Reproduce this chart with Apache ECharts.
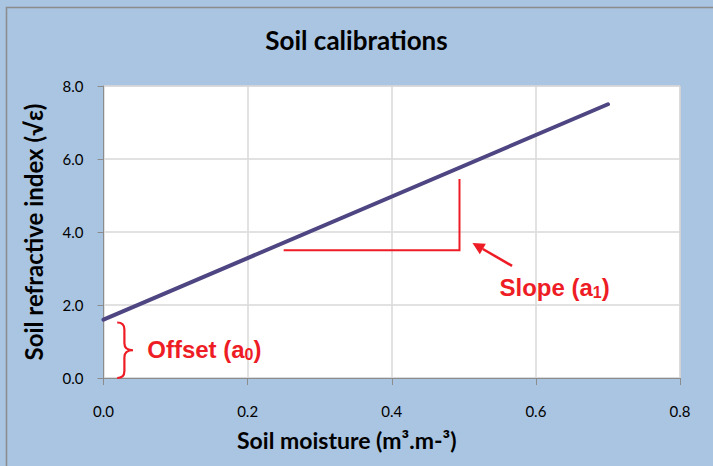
<!DOCTYPE html>
<html>
<head>
<meta charset="utf-8">
<script src="https://cdn.jsdelivr.net/npm/echarts@6/dist/echarts.min.js"></script>
<style>
html,body{margin:0;padding:0;background:#AAC5E1;}
#chart{width:713px;height:466px;}
</style>
</head>
<body>
<div id="chart"></div>
<script>
// Data
const calibX = [0, 0.7];
const calibY = [1.6, 7.5];
const xTicks = [0, 0.2, 0.4, 0.6, 0.8];
const yTicks = [0, 2, 4, 6, 8];
// Annotations (data coordinates)
const slopeLegs = [[0.25, 3.5], [0.494, 3.5], [0.494, 5.45]];
const slopeArrow = [[0.567, 3.07], [0.512, 3.70]];
const slopeLabel = [0.626, 2.47];
const braceX = [0.019, 0.029, 0.041];
const braceY = [0, 1.52];
const offsetLabel = [0.14, 0.77];

const RED = '#EE1C25';
const chart = echarts.init(document.getElementById('chart'), null, {renderer: 'svg'});

function annotations(params, api) {
  const children = [];
  const pts = slopeLegs.map(p => api.coord(p));
  children.push({type: 'polyline', shape: {points: pts}, style: {stroke: RED, lineWidth: 2, fill: null}});
  const a0 = api.coord(slopeArrow[0]), a1 = api.coord(slopeArrow[1]);
  const dx = a1[0] - a0[0], dy = a1[1] - a0[1];
  const len = Math.sqrt(dx * dx + dy * dy);
  const ux = dx / len, uy = dy / len;
  const hl = 12, hw = 6;
  const bx = a1[0] - ux * hl, by = a1[1] - uy * hl;
  children.push({type: 'line', shape: {x1: a0[0], y1: a0[1], x2: bx, y2: by}, style: {stroke: RED, lineWidth: 2.5}});
  children.push({type: 'polygon', shape: {points: [a1, [bx - uy * hw, by + ux * hw], [bx + uy * hw, by - ux * hw]]}, style: {fill: RED}});
  const top = api.coord([braceX[0], braceY[1]]);
  const bot = api.coord([braceX[0], braceY[0]]);
  const xv = api.coord([braceX[1], 0])[0];
  const xt = api.coord([braceX[2], 0])[0];
  const x0 = top[0], yt = top[1], yb = bot[1], ym = (yt + yb) / 2;
  const r = 7;
  const d = `M ${x0} ${yt} Q ${xv} ${yt} ${xv} ${yt + r} L ${xv} ${ym - r} Q ${xv} ${ym} ${xt} ${ym} Q ${xv} ${ym} ${xv} ${ym + r} L ${xv} ${yb - r} Q ${xv} ${yb} ${x0} ${yb}`;
  children.push({type: 'path', shape: {pathData: d}, style: {stroke: RED, lineWidth: 2.2, fill: null}});
  const sl = api.coord(slopeLabel), ol = api.coord(offsetLabel);
  const sub = {s: {fontSize: 16, fill: RED, fontWeight: 'bold', fontFamily: 'Liberation Sans', padding: [9, 0, 0, 0]}};
  children.push({type: 'text', x: sl[0], y: sl[1], style: {text: 'Slope (a{s|1})', rich: sub, fill: RED, fontSize: 24, fontWeight: 'bold', fontFamily: 'Liberation Sans', align: 'center', verticalAlign: 'middle'}});
  children.push({type: 'text', x: ol[0], y: ol[1], style: {text: 'Offset (a{s|0})', rich: sub, fill: RED, fontSize: 24, fontWeight: 'bold', fontFamily: 'Liberation Sans', align: 'center', verticalAlign: 'middle'}});
  return {type: 'group', children};
}

const option = {
  backgroundColor: '#AAC5E1',
  animation: false,
  textStyle: {fontFamily: 'Lato'},
  title: {
    text: 'Soil calibrations', left: 'center', top: 22,
    textStyle: {fontFamily: 'Lato', fontWeight: 'bold', fontSize: 26, color: '#000'}
  },
  graphic: [{
    type: 'rect', left: 4, top: 5, shape: {width: 760, height: 500},
    style: {fill: null, stroke: '#8C8C8C', lineWidth: 1.5}, silent: true
  }],
  grid: {left: 103.5, right: 33, top: 86, bottom: 88, show: true, backgroundColor: '#fff', borderColor: '#C8C8C8', borderWidth: 1},
  xAxis: {
    type: 'value', min: xTicks[0], max: xTicks[xTicks.length - 1], interval: 0.2,
    name: 'Soil moisture (m³.m-³)', nameLocation: 'middle', nameGap: 50,
    nameTextStyle: {fontFamily: 'Lato', fontWeight: 'bold', fontSize: 23, color: '#000', padding: [0, 90, 0, 0]},
    axisLine: {show: true, lineStyle: {color: '#8C8C8C', width: 1}},
    axisTick: {show: true, length: 7, lineStyle: {color: '#8C8C8C'}},
    axisLabel: {fontSize: 15, color: '#000', margin: 25, formatter: v => v.toFixed(1)},
    splitLine: {show: true, lineStyle: {color: '#D9D9D9', width: 1.5}}
  },
  yAxis: {
    type: 'value', min: yTicks[0], max: yTicks[yTicks.length - 1], interval: 2,
    name: 'Soil refractive index (√ε)', nameLocation: 'middle', nameGap: 58,
    nameTextStyle: {fontFamily: 'Lato', fontWeight: 'bold', fontSize: 24, color: '#000'},
    axisLine: {show: true, lineStyle: {color: '#8C8C8C', width: 1}},
    axisTick: {show: true, length: 6, lineStyle: {color: '#8C8C8C'}},
    axisLabel: {fontSize: 15, color: '#000', margin: 20, formatter: v => v.toFixed(1)},
    splitLine: {show: true, lineStyle: {color: '#D9D9D9', width: 1.5}}
  },
  series: [{
    type: 'line',
    data: calibX.map((x, i) => [x, calibY[i]]),
    symbol: 'none',
    lineStyle: {color: '#4E4682', width: 4, cap: 'round'},
    z: 3
  }, {
    type: 'custom',
    data: [[0, 0]],
    renderItem: annotations,
    clip: false,
    silent: true,
    z: 4
  }]
};
chart.setOption(option);
</script>
</body>
</html>
